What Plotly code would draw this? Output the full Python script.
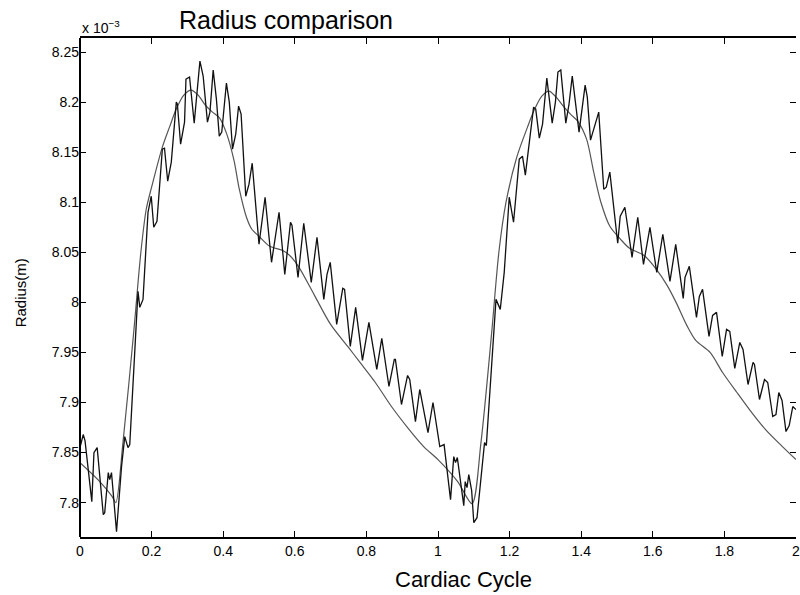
import plotly.graph_objects as go

# Smooth (model) radius, in units of 1e-3 m
x_smooth = [0.00, 0.05, 0.09, 0.10, 0.12, 0.15, 0.17, 0.185, 0.20, 0.23, 0.25, 0.27, 0.29, 0.31,
            0.33, 0.35, 0.37, 0.39, 0.41, 0.43, 0.445, 0.465, 0.48, 0.50, 0.53, 0.565, 0.585,
            0.61, 0.655, 0.70, 0.75, 0.78, 0.825, 0.87, 0.915, 0.96, 1.00, 1.055, 1.095,
            1.12, 1.15, 1.17, 1.19, 1.22, 1.25, 1.27, 1.29, 1.31, 1.33, 1.35, 1.37, 1.39,
            1.415, 1.435, 1.455, 1.48, 1.51, 1.535, 1.575, 1.61, 1.64, 1.665, 1.695, 1.72,
            1.76, 1.795, 1.835, 1.87, 1.915, 1.965, 2.00]
r_smooth = [7.840, 7.823, 7.806, 7.800, 7.860, 7.970, 8.050, 8.093, 8.115, 8.155, 8.175, 8.194,
            8.207, 8.212, 8.207, 8.197, 8.190, 8.184, 8.168, 8.142, 8.113, 8.085, 8.073, 8.066,
            8.056, 8.052, 8.047, 8.036, 8.007, 7.978, 7.955, 7.941, 7.920, 7.896, 7.875, 7.856,
            7.843, 7.821, 7.799,
            7.860, 7.970, 8.050, 8.100, 8.145, 8.175, 8.193, 8.206, 8.211, 8.205, 8.196, 8.188,
            8.181, 8.163, 8.130, 8.100, 8.076, 8.063, 8.054, 8.047, 8.033, 8.017, 8.000, 7.977,
            7.962, 7.950, 7.930, 7.910, 7.893, 7.873, 7.855, 7.843]

# Measured (oscillating) radius, in units of 1e-3 m
x_meas = [0.000, 0.009, 0.014, 0.033, 0.039, 0.048, 0.065, 0.069, 0.079, 0.083, 0.088, 0.102,
          0.116, 0.125, 0.134, 0.139, 0.162, 0.167, 0.176, 0.190, 0.199, 0.206, 0.215, 0.230,
          0.236, 0.245, 0.255, 0.269, 0.272, 0.281, 0.292, 0.296, 0.306, 0.319, 0.335, 0.344,
          0.356, 0.363, 0.372, 0.381, 0.389, 0.396, 0.409, 0.417, 0.426, 0.435, 0.443, 0.450,
          0.463, 0.472, 0.481, 0.500, 0.517, 0.535, 0.556, 0.572, 0.588, 0.592, 0.609, 0.625,
          0.646, 0.662, 0.681, 0.690, 0.699, 0.717, 0.734, 0.739, 0.755, 0.770, 0.789, 0.807,
          0.829, 0.843, 0.863, 0.878, 0.881, 0.898, 0.915, 0.921, 0.937, 0.949, 0.972, 0.986,
          1.005, 1.017, 1.035, 1.044, 1.049, 1.054, 1.072, 1.076, 1.081, 1.086, 1.094, 1.100,
          1.109, 1.130, 1.135, 1.162, 1.174, 1.185, 1.199, 1.211, 1.227, 1.236, 1.244, 1.267,
          1.273, 1.283, 1.292, 1.304, 1.319, 1.328, 1.335, 1.343, 1.357, 1.366, 1.375, 1.394,
          1.411, 1.417, 1.426, 1.449, 1.463, 1.470, 1.480, 1.502, 1.509, 1.522, 1.542, 1.558,
          1.574, 1.592, 1.611, 1.628, 1.648, 1.664, 1.685, 1.690, 1.702, 1.722, 1.730, 1.739,
          1.757, 1.767, 1.778, 1.794, 1.806, 1.815, 1.829, 1.843, 1.852, 1.866, 1.880, 1.884,
          1.898, 1.912, 1.921, 1.935, 1.944, 1.952, 1.961, 1.972, 1.981, 1.991, 2.000]
r_meas = [7.855, 7.868, 7.862, 7.801, 7.850, 7.855, 7.788, 7.790, 7.830, 7.823, 7.830, 7.771,
          7.836, 7.866, 7.855, 7.858, 8.011, 7.995, 8.003, 8.090, 8.106, 8.075, 8.081, 8.153,
          8.154, 8.121, 8.140, 8.200, 8.198, 8.158, 8.180, 8.223, 8.225, 8.179, 8.241, 8.226,
          8.180, 8.190, 8.232, 8.203, 8.166, 8.170, 8.219, 8.200, 8.153, 8.168, 8.196, 8.188,
          8.106, 8.118, 8.139, 8.058, 8.105, 8.040, 8.090, 8.028, 8.080, 8.077, 8.025, 8.079,
          8.020, 8.065, 8.003, 8.028, 8.040, 7.978, 8.014, 8.013, 7.956, 7.995, 7.942, 7.980,
          7.933, 7.964, 7.916, 7.943, 7.943, 7.898, 7.927, 7.923, 7.881, 7.913, 7.870, 7.900,
          7.856, 7.858, 7.803, 7.846, 7.840, 7.845, 7.797, 7.821, 7.815, 7.828, 7.812, 7.780,
          7.785, 7.860, 7.857, 8.003, 7.993, 8.030, 8.105, 8.080, 8.143, 8.146, 8.127, 8.195,
          8.193, 8.164, 8.178, 8.224, 8.179, 8.200, 8.230, 8.232, 8.179, 8.198, 8.226, 8.170,
          8.217, 8.205, 8.162, 8.190, 8.113, 8.115, 8.130, 8.059, 8.086, 8.095, 8.045, 8.085,
          8.038, 8.075, 8.030, 8.068, 8.021, 8.058, 8.004, 8.025, 8.036, 7.985, 8.006, 8.013,
          7.966, 7.987, 7.990, 7.946, 7.973, 7.971, 7.934, 7.960, 7.953, 7.918, 7.940, 7.938,
          7.903, 7.923, 7.920, 7.886, 7.888, 7.910, 7.902, 7.871, 7.877, 7.896, 7.893]

x_ticks = [0, 0.2, 0.4, 0.6, 0.8, 1.0, 1.2, 1.4, 1.6, 1.8, 2.0]
x_ticktext = ["0", "0.2", "0.4", "0.6", "0.8", "1", "1.2", "1.4", "1.6", "1.8", "2"]
y_ticks_mm = [7.8, 7.85, 7.9, 7.95, 8.0, 8.05, 8.1, 8.15, 8.2, 8.25]
y_ticktext = ["7.8", "7.85", "7.9", "7.95", "8", "8.05", "8.1", "8.15", "8.2", "8.25"]

SCALE = 1e-3
FONT = "Liberation Sans, Arial, Helvetica, sans-serif"

fig = go.Figure()
fig.add_trace(go.Scatter(x=x_smooth, y=[v * SCALE for v in r_smooth], mode="lines",
                         line=dict(color="#555555", width=1.2, shape="spline", smoothing=0.8),
                         showlegend=False, hoverinfo="skip"))
fig.add_trace(go.Scatter(x=x_meas, y=[v * SCALE for v in r_meas], mode="lines",
                         line=dict(color="#111111", width=1.3),
                         showlegend=False, hoverinfo="skip"))

tick_common = dict(ticks="inside", ticklen=6, tickwidth=1, tickcolor="black",
                   showgrid=False, zeroline=False, mirror="ticks",
                   tickfont=dict(family=FONT, size=14, color="black"))

fig.update_layout(
    width=800, height=595,
    margin=dict(l=80, r=0, t=38, b=58),
    paper_bgcolor="white", plot_bgcolor="white",
    xaxis=dict(range=[0, 2], tickvals=x_ticks, ticktext=x_ticktext,
               showline=True, linecolor="black", linewidth=2,
               ticklabeloverflow="allow", **tick_common),
    yaxis=dict(range=[7.7657 * SCALE, 8.264 * SCALE],
               tickvals=[v * SCALE for v in y_ticks_mm], ticktext=y_ticktext,
               showline=False, **tick_common),
    shapes=[dict(type="line", xref="paper", yref="paper", x0=0, x1=0, y0=0, y1=1,
                 line=dict(color="black", width=2))],
    annotations=[
        dict(text="Radius comparison", xref="paper", yref="paper", x=(178 - 80) / 720,
             y=(537 - 20) / 499, xanchor="left", yanchor="middle", showarrow=False,
             font=dict(family=FONT, size=25, color="black")),
        dict(text="x 10<sup>−3</sup>", xref="paper", yref="paper", x=0, y=(537 - 27) / 499,
             xanchor="left", yanchor="middle", showarrow=False,
             font=dict(family=FONT, size=14, color="black")),
        dict(text="Cardiac Cycle", xref="paper", yref="paper", x=(466 - 80) / 720,
             y=(537 - 579) / 499, xanchor="center", yanchor="middle", showarrow=False,
             font=dict(family=FONT, size=22, color="black")),
        dict(text="Radius(m)", xref="paper", yref="paper", x=(20 - 80) / 720,
             y=(537 - 293) / 499, xanchor="center", yanchor="middle", showarrow=False,
             textangle=-90, font=dict(family=FONT, size=15, color="black")),
    ],
)

fig.write_html("out.html")
